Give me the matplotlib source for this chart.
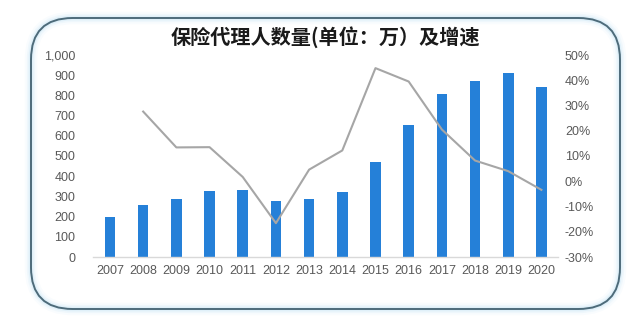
import matplotlib
matplotlib.use("Agg")
import matplotlib.pyplot as plt
import numpy as np
from matplotlib.patches import FancyBboxPatch
from matplotlib.ticker import FuncFormatter, MultipleLocator

years = ["2007", "2008", "2009", "2010", "2011", "2012", "2013",
         "2014", "2015", "2016", "2017", "2018", "2019", "2020"]
agents = [199, 255, 287, 328, 333, 277, 286, 323, 469, 655, 806, 870, 912, 843]
growth = [np.nan, 27.6, 13.4, 13.5, 1.7, -16.6, 4.6, 12.2, 44.8, 39.5, 20.5, 8.2, 4.0, -3.4]

title = "保险代理人数量(单位：万）及增速"

W, H = 640, 329
fig = plt.figure(figsize=(W / 100, H / 100), dpi=100)
fig.patch.set_facecolor("white")

# rounded frame with light glow
x0, y0, x1, y1 = 31, 18, 620, 309
for lw, a in [(9, 0.06), (6, 0.10), (3.5, 0.18)]:
    glow = FancyBboxPatch((x0 / W, 1 - y1 / H), (x1 - x0) / W, (y1 - y0) / H,
                          boxstyle="round,pad=0,rounding_size=0.065",
                          transform=fig.transFigure, facecolor="none",
                          edgecolor="#9fd4ee", linewidth=lw, alpha=a,
                          mutation_aspect=W / H)
    fig.patches.append(glow)
frame = FancyBboxPatch((x0 / W, 1 - y1 / H), (x1 - x0) / W, (y1 - y0) / H,
                       boxstyle="round,pad=0,rounding_size=0.065",
                       transform=fig.transFigure, facecolor="none",
                       edgecolor="#4d6b7a", linewidth=1.4,
                       mutation_aspect=W / H)
fig.patches.append(frame)

ax = fig.add_axes([93.4 / W, (H - 257) / H, (558 - 93.4) / W, (257 - 55) / H])
ax.patch.set_alpha(0)
x = np.arange(len(years))
ax.bar(x, agents, width=0.32, color="#2580d8", zorder=2)
ax.set_xlim(-0.5, len(years) - 0.5)
ax.set_ylim(0, 1000)
ax.yaxis.set_major_locator(MultipleLocator(100))
ax.yaxis.set_major_formatter(FuncFormatter(lambda v, p: f"{int(v):,}"))
ax.set_xticks(x)
ax.set_xticklabels(years)
for s in ["top", "right", "left"]:
    ax.spines[s].set_visible(False)
ax.spines["bottom"].set_color("#d9d9d9")
ax.spines["bottom"].set_linewidth(1.0)
ax.tick_params(axis="both", length=0, labelsize=9, labelcolor="#595959")
ax.tick_params(axis="y", pad=13)
ax.tick_params(axis="x", pad=6)

ax2 = ax.twinx()
ax2.plot(x, growth, color="#a6a6a6", linewidth=1.5, zorder=3)
ax2.set_ylim(-30, 50)
ax2.yaxis.set_major_locator(MultipleLocator(10))
ax2.yaxis.set_major_formatter(FuncFormatter(lambda v, p: f"{int(round(v))}%"))
for s in ["top", "right", "left", "bottom"]:
    ax2.spines[s].set_visible(False)
ax2.tick_params(axis="y", length=0, labelsize=9, labelcolor="#595959", pad=5)

fig.text(325 / W, 1 - 37 / H, title, ha="center", va="center",
         fontsize=14.5, fontweight="bold", color="#1a1a1a",
         family=["Noto Sans CJK SC", "DejaVu Sans"])

for a in (ax, ax2):
    for lab in a.get_xticklabels() + a.get_yticklabels():
        lab.set_family(["Liberation Sans", "DejaVu Sans"])

fig.savefig("out.png", dpi=100)
